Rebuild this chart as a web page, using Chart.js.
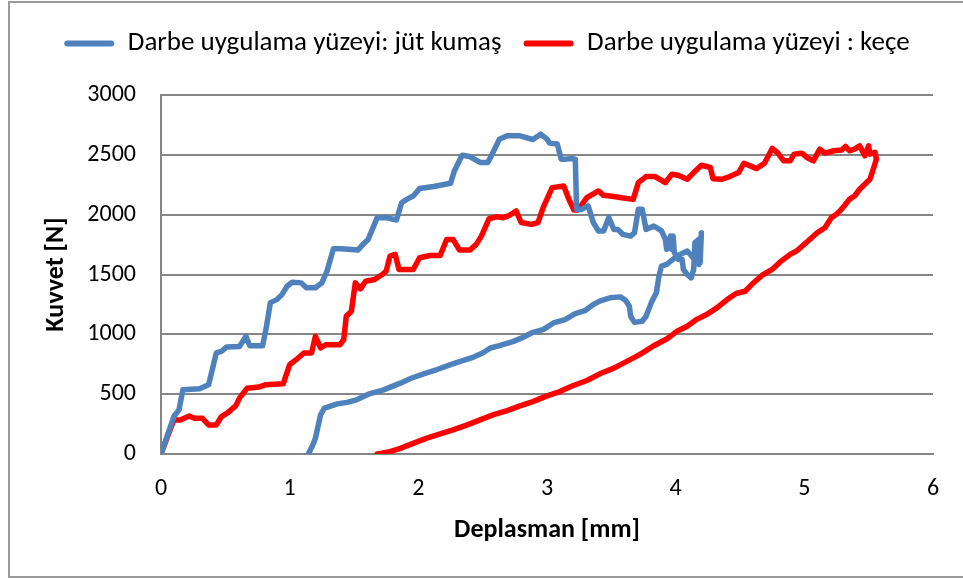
<!DOCTYPE html>
<html>
<head>
<meta charset="utf-8">
<script src="https://cdn.jsdelivr.net/npm/chart.js@4/dist/chart.umd.min.js"></script>
<style>
  body { margin: 0; background: #fff; }
  #wrap { position: relative; width: 963px; height: 578px; overflow: hidden; }
  #frame { position: absolute; left: 8px; top: 1px; width: 980px; height: 573px; border: 2px solid #9a9a9a; pointer-events: none; }
</style>
</head>
<body>
<div id="wrap">
  <canvas id="kuvvetChart" width="963" height="578"></canvas>
  <div id="frame"></div>
</div>
<script>
// Kuvvet - deplasman egrileri (yukleme + bosaltma)
const jutLabel = 'Darbe uygulama yüzeyi: jüt kumaş';
const keceLabel = 'Darbe uygulama yüzeyi : keçe';

const jutX = [
    0.00, 0.10, 0.14, 0.17, 0.30, 0.37, 0.43, 0.47, 0.51, 0.61,
    0.66, 0.69, 0.79, 0.82, 0.85, 0.90, 0.94, 0.98, 1.02, 1.09,
    1.13, 1.20, 1.25, 1.29, 1.34, 1.40, 1.53, 1.57, 1.61, 1.68,
    1.75, 1.83, 1.87, 1.91, 1.96, 2.01, 2.12, 2.25, 2.28, 2.34,
    2.40, 2.48, 2.54, 2.58, 2.63, 2.69, 2.79, 2.89, 2.95, 3.00,
    3.02, 3.08, 3.11, 3.15, 3.19, 3.22, 3.23, 3.27, 3.32, 3.36,
    3.40, 3.44, 3.48, 3.52, 3.55, 3.59, 3.65, 3.68, 3.71, 3.74,
    3.77, 3.83, 3.89, 3.92, 3.93, 3.96, 3.97, 3.98, 3.99, 4.02,
    4.05, 4.06, 4.09, 4.12, 4.14, 4.15, 4.18, 4.19, 4.20,
    4.18, 4.09, 4.01, 3.93, 3.89, 3.87, 3.85, 3.81, 3.77, 3.74,
    3.68, 3.65, 3.64, 3.61, 3.57, 3.49, 3.41, 3.36, 3.30, 3.22,
    3.14, 3.05, 2.97, 2.89, 2.82, 2.74, 2.63, 2.56, 2.50, 2.43,
    2.35, 2.25, 2.14, 2.04, 1.94, 1.86, 1.73, 1.62, 1.52, 1.44,
    1.37, 1.27, 1.24, 1.22, 1.20, 1.18, 1.15
];
const jutY = [
    0, 313, 369, 536, 545, 578, 845, 857, 895, 899,
    983, 905, 905, 1067, 1265, 1290, 1332, 1402, 1436, 1430,
    1389, 1389, 1430, 1528, 1716, 1716, 1704, 1752, 1793, 1975,
    1975, 1955, 2100, 2128, 2156, 2218, 2235, 2262, 2365, 2497,
    2486, 2436, 2436, 2520, 2631, 2659, 2659, 2628, 2673, 2631,
    2598, 2590, 2464, 2464, 2470, 2464, 2045, 2045, 2073, 1934,
    1864, 1864, 1975, 1877, 1877, 1835, 1821, 1849, 2045, 2045,
    1877, 1905, 1864, 1793, 1710, 1821, 1710, 1821, 1682, 1626,
    1626, 1542, 1500, 1472, 1542, 1766, 1793, 1598, 1849,
    1584, 1696, 1654, 1584, 1570, 1486, 1347, 1263, 1151, 1109,
    1100, 1151, 1235, 1285, 1313, 1305, 1277, 1249, 1201, 1173,
    1123, 1095, 1039, 1017, 978, 941, 905, 886, 844, 810,
    782, 746, 704, 670, 631, 592, 536, 503, 453, 430,
    419, 383, 327, 229, 131, 75, 11
];

const keceX = [
    0.00, 0.06, 0.10, 0.15, 0.22, 0.26, 0.32, 0.37, 0.43, 0.47,
    0.52, 0.58, 0.61, 0.67, 0.76, 0.81, 0.95, 1.00, 1.05, 1.11,
    1.17, 1.20, 1.24, 1.28, 1.39, 1.42, 1.44, 1.48, 1.51, 1.55,
    1.59, 1.66, 1.72, 1.75, 1.78, 1.82, 1.85, 1.96, 2.01, 2.09,
    2.17, 2.22, 2.27, 2.32, 2.40, 2.45, 2.49, 2.55, 2.61, 2.66,
    2.70, 2.76, 2.80, 2.88, 2.93, 2.97, 3.04, 3.13, 3.17, 3.21,
    3.24, 3.31, 3.40, 3.44, 3.52, 3.58, 3.67, 3.71, 3.77, 3.84,
    3.92, 3.97, 4.02, 4.09, 4.14, 4.20, 4.27, 4.29, 4.36, 4.42,
    4.49, 4.53, 4.63, 4.69, 4.75, 4.79, 4.84, 4.89, 4.92, 4.98,
    5.02, 5.07, 5.12, 5.16, 5.23, 5.29, 5.32, 5.35, 5.39, 5.43,
    5.47, 5.50, 5.51, 5.55, 5.56,
    5.54, 5.51, 5.47, 5.43, 5.39, 5.35, 5.30, 5.25, 5.21, 5.16,
    5.10, 5.02, 4.94, 4.89, 4.82, 4.75, 4.67, 4.59, 4.54, 4.47,
    4.40, 4.32, 4.24, 4.16, 4.09, 4.01, 3.93, 3.83, 3.72, 3.62,
    3.52, 3.41, 3.31, 3.20, 3.10, 3.00, 2.89, 2.79, 2.69, 2.58,
    2.48, 2.38, 2.27, 2.17, 2.06, 1.96, 1.86, 1.78, 1.68
];
const keceY = [
    0, 173, 285, 285, 318, 299, 299, 243, 243, 313,
    346, 402, 467, 550, 559, 578, 587, 746, 788, 844,
    844, 983, 886, 913, 913, 955, 1151, 1193, 1430, 1380,
    1444, 1458, 1500, 1528, 1654, 1668, 1542, 1542, 1640, 1659,
    1659, 1793, 1793, 1704, 1704, 1752, 1821, 1966, 1983, 1975,
    1989, 2031, 1934, 1919, 1934, 2059, 2226, 2240, 2128, 2039,
    2039, 2142, 2198, 2162, 2151, 2142, 2128, 2268, 2318, 2318,
    2268, 2338, 2329, 2296, 2352, 2413, 2394, 2301, 2296, 2318,
    2352, 2430, 2385, 2430, 2553, 2520, 2450, 2450, 2506, 2514,
    2478, 2450, 2548, 2514, 2534, 2540, 2570, 2534, 2548, 2575,
    2492, 2575, 2506, 2520, 2464,
    2394, 2296, 2254, 2212, 2156, 2128, 2059, 2003, 1975, 1891,
    1849, 1771, 1696, 1668, 1612, 1542, 1492, 1416, 1360, 1341,
    1291, 1221, 1165, 1123, 1067, 1025, 961, 905, 830, 774,
    718, 670, 614, 570, 522, 486, 438, 402, 363, 327,
    285, 243, 201, 168, 131, 89, 47, 20, 0
];

const xTicksMax = 6;
const yTicksMax = 3000;
const yStep = 500;

const FONT = 'Carlito, Lato, sans-serif';

function toPoints(xs, ys) {
    return xs.map((x, i) => ({ x: x, y: ys[i] }));
}

function lineDataset(label, xs, ys, color) {
    return {
        label: label,
        data: toPoints(xs, ys),
        showLine: true,
        borderColor: color,
        backgroundColor: color,
        borderWidth: 5.5,
        pointRadius: 0,
        tension: 0,
        borderJoinStyle: 'round',
        borderCapStyle: 'round'
    };
}

const ctx = document.getElementById('kuvvetChart').getContext('2d');
new Chart(ctx, {
    type: 'scatter',
    data: {
        datasets: [
            lineDataset(jutLabel, jutX, jutY, '#4f81bd'),
            lineDataset(keceLabel, keceX, keceY, '#ff0000')
        ]
    },
    options: {
        responsive: false,
        animation: false,
        layout: { padding: { top: 8, left: 41, right: 30, bottom: 0 } },
        plugins: {
            tooltip: { enabled: false },
            // empty title used as a gap between the legend and the plot
            title: {
                display: true,
                text: ' ',
                weight: 500,
                font: { size: 28, lineHeight: 1 },
                padding: 0
            },
            legend: {
                position: 'top',
                labels: {
                    color: '#000',
                    font: { family: FONT, size: 27 },
                    boxWidth: 50,
                    boxHeight: 6,
                    padding: 22,
                    generateLabels: chart => Chart.defaults.plugins.legend.labels.generateLabels(chart)
                        .map(item => Object.assign(item, { lineWidth: 0, borderRadius: 3 }))
                }
            }
        },
        scales: {
            x: {
                type: 'linear',
                min: 0,
                max: xTicksMax,
                ticks: { stepSize: 1, color: '#000', font: { family: FONT, size: 24 }, padding: 21 },
                grid: { display: false, drawTicks: false },
                border: { color: '#868686', width: 2 },
                title: {
                    display: true,
                    text: 'Deplasman [mm]',
                    color: '#000',
                    font: { family: FONT, size: 26, weight: 'bold' },
                    padding: { top: 0, bottom: 32 }
                },
                afterFit: scale => { scale.height = 124; }
            },
            y: {
                min: 0,
                max: yTicksMax,
                ticks: {
                    stepSize: yStep,
                    color: '#000',
                    font: { family: FONT, size: 24 },
                    padding: 25,
                    callback: v => String(v)
                },
                grid: { color: '#868686', lineWidth: 2, drawTicks: false },
                border: { color: '#868686', width: 2 },
                title: {
                    display: true,
                    text: 'Kuvvet [N]',
                    color: '#000',
                    font: { family: FONT, size: 26, weight: 'bold' },
                    padding: { top: 0, bottom: 0 }
                },
                afterFit: scale => { scale.width = 120; }
            }
        }
    }
});
</script>
</body>
</html>
